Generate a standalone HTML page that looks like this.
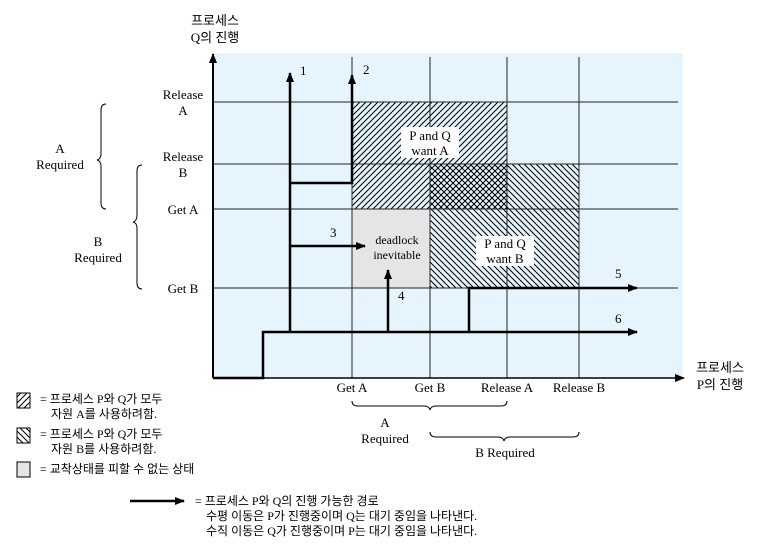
<!DOCTYPE html>
<html><head><meta charset="utf-8"><style>
html,body{margin:0;padding:0;background:#fff;}
svg{display:block;font-family:"Liberation Serif","Noto Serif CJK SC",serif;}
</style></head><body>
<svg id="c" width="775" height="556" viewBox="0 0 775 556">
<defs>
<pattern id="fw" patternUnits="userSpaceOnUse" width="6" height="6"><path d="M-1,1 l2,-2 M0,6 l6,-6 M5,7 l2,-2" stroke="#000" stroke-width="1"/></pattern>
<pattern id="bw" patternUnits="userSpaceOnUse" width="6" height="6"><path d="M-1,5 l2,2 M0,0 l6,6 M5,-1 l2,2" stroke="#000" stroke-width="1"/></pattern>
<marker id="ah" markerWidth="10" markerHeight="8" refX="9" refY="4" orient="auto" markerUnits="userSpaceOnUse"><path d="M0,0 L10,4 L0,8 z" fill="#000"/></marker>
</defs>
<rect x="213" y="53" width="470" height="325" fill="#e6f5fd"/>
<g id="regions"></g>
<g id="grid"></g>
<g id="paths"></g>
<g id="labels"></g>
</svg>
<script>
const xEvents = ['Get A','Get B','Release A','Release B'];
const xEventVals = [13.9, 21.7, 29.4, 36.6];
const yEvents = [['Get B'],['Get A'],['Release','B'],['Release','A']];
const yEventVals = [9.0, 16.9, 21.4, 27.6];
const pathNames = ['1','2','3','4','5','6'];
const pathPts = [
  [[7.7,4.6],[7.7,30.5]],
  [[7.7,19.5],[13.9,19.5],[13.9,30.3]],
  [[7.7,13.2],[15.2,13.2]],
  [[17.5,4.6],[17.5,10.8]],
  [[25.6,4.6],[25.6,9.0],[42.4,9.0]],
  [[0,0],[5.0,0],[5.0,4.6],[42.4,4.6]]
];
const pathLabelPts = [[8.7,30.3],[15.0,30.4],[11.7,14.1],[18.5,7.8],[40.2,10.0],[40.2,5.5]];
const X = v => 213 + v*10, Y = v => 378 - v*10;
const NS='http://www.w3.org/2000/svg';
function mk(tag, attrs, parent, text){const e=document.createElementNS(NS,tag);for(const k in attrs)e.setAttribute(k,attrs[k]);if(text!==undefined)e.textContent=text;parent.appendChild(e);return e;}
const reg=document.getElementById('regions'), grid=document.getElementById('grid'), pg=document.getElementById('paths'), lg=document.getElementById('labels');
let r=mk('rect',{x:X(xEventVals[0]),y:Y(yEventVals[3]),width:X(xEventVals[2])-X(xEventVals[0]),height:Y(yEventVals[1])-Y(yEventVals[3]),fill:'url(#fw)'},reg);


r=mk('rect',{x:X(xEventVals[1]),y:Y(yEventVals[2]),width:X(xEventVals[3])-X(xEventVals[1]),height:Y(yEventVals[0])-Y(yEventVals[2]),fill:'url(#bw)'},reg);


r=mk('rect',{x:X(xEventVals[0]),y:Y(yEventVals[1]),width:X(xEventVals[1])-X(xEventVals[0]),height:Y(yEventVals[0])-Y(yEventVals[1]),fill:'#e5e5e5'},reg);


xEventVals.forEach((v,i)=>{const l=mk('line',{x1:X(v),x2:X(v),y1:57,y2:378,stroke:'#222','stroke-width':1},grid);


const t=mk('text',{x:X(v),y:392,'font-size':13,'text-anchor':'middle'},lg,xEvents[i]);

});
yEventVals.forEach((v,i)=>{const l=mk('line',{x1:213,x2:678,y1:Y(v),y2:Y(v),stroke:'#222','stroke-width':1},grid);


const lines=yEvents[i];
lines.forEach((s,j)=>{const yy= lines.length===1? Y(v)+5 : Y(v)-3+j*16;
const t=mk('text',{x:183,y:yy,'font-size':13,'text-anchor':'middle'},lg,s);

});});
let ax=mk('line',{x1:213,y1:378,x2:213,y2:54,stroke:'#000','stroke-width':2,'marker-end':'url(#ah)'},grid);


ax=mk('line',{x1:213,y1:378,x2:684,y2:378,stroke:'#000','stroke-width':1.5,'marker-end':'url(#ah)'},grid);


pathPts.forEach((pts,i)=>{const d=pts.map((p,j)=>(j?'L':'M')+X(p[0])+','+Y(p[1])).join(' ');
const p=mk('path',{d:d,fill:'none',stroke:'#000','stroke-width':2.5,'marker-end':'url(#ah)'},pg);


const t=mk('text',{x:X(pathLabelPts[i][0]),y:Y(pathLabelPts[i][1]),'font-size':13},lg,pathNames[i]);

});
</script>
<svg width="775" height="556" viewBox="0 0 775 556" style="position:absolute;left:0;top:0;font-family:'Liberation Serif','Noto Sans CJK KR',serif">
<rect x="401" y="127" width="58" height="31" fill="#fff"/>
<text x="430" y="140" font-size="13" text-anchor="middle">P and Q</text>
<text x="430" y="155" font-size="13" text-anchor="middle">want A</text>
<rect x="476" y="236" width="58" height="30" fill="#fff"/>
<text x="505" y="248" font-size="13" text-anchor="middle">P and Q</text>
<text x="505" y="263" font-size="13" text-anchor="middle">want B</text>
<text x="397" y="244" font-size="12" text-anchor="middle">deadlock</text>
<text x="397" y="259" font-size="12" text-anchor="middle">inevitable</text>
<text x="215" y="25" font-size="13" text-anchor="middle">프로세스</text>
<text x="215" y="42" font-size="13" text-anchor="middle">Q의 진행</text>
<text x="720" y="372" font-size="13" text-anchor="middle">프로세스</text>
<text x="720" y="389" font-size="13" text-anchor="middle">P의 진행</text>
<path d="M106,104 q-5,0 -5,6 v44 q0,5 -4,6 q4,1 4,6 v37 q0,6 5,6" fill="none" stroke="#000" stroke-width="1"/>
<text x="60" y="153" font-size="13" text-anchor="middle">A</text>
<text x="60" y="169" font-size="13" text-anchor="middle">Required</text>
<path d="M142,165 q-5,0 -5,6 v44 q0,6 -4,7 q4,1 4,6 v55 q0,6 5,6" fill="none" stroke="#000" stroke-width="1"/>
<text x="98" y="246" font-size="13" text-anchor="middle">B</text>
<text x="98" y="262" font-size="13" text-anchor="middle">Required</text>
<path d="M352,401 q0,5 6,5 h66 q5,0 6,4 q1,-4 6,-4 h65 q6,0 6,-5" fill="none" stroke="#000" stroke-width="1"/>
<text x="385" y="427" font-size="13" text-anchor="middle">A</text>
<text x="385" y="443" font-size="13" text-anchor="middle">Required</text>
<path d="M430,432 q0,5 6,5 h62 q5,0 6,4 q1,-4 6,-4 h63 q6,0 6,-5" fill="none" stroke="#000" stroke-width="1"/>
<text x="505" y="457" font-size="13" text-anchor="middle">B Required</text>
<rect x="17" y="393" width="13" height="15" fill="url(#fw)" stroke="#000"/>
<text x="40" y="403" font-size="12">= 프로세스 P와 Q가 모두</text>
<text x="51" y="418" font-size="12">자원 A를 사용하려함.</text>
<rect x="17" y="428" width="13" height="15" fill="url(#bw)" stroke="#000"/>
<text x="40" y="438" font-size="12">= 프로세스 P와 Q가 모두</text>
<text x="51" y="453" font-size="12">자원 B를 사용하려함.</text>
<rect x="17" y="462" width="13" height="15" fill="#e5e5e5" stroke="#000"/>
<text x="40" y="473" font-size="12">= 교착상태를 피할 수 없는 상태</text>
<line x1="130" y1="501" x2="184" y2="501" stroke="#000" stroke-width="2.5" marker-end="url(#ah)"/>
<text x="195" y="505" font-size="12">= 프로세스 P와 Q의 진행 가능한 경로</text>
<text x="206" y="520" font-size="12">수평 이동은 P가 진행중이며 Q는 대기 중임을 나타낸다.</text>
<text x="206" y="535" font-size="12">수직 이동은 Q가 진행중이며 P는 대기 중임을 나타낸다.</text>
</svg>
</body></html>
